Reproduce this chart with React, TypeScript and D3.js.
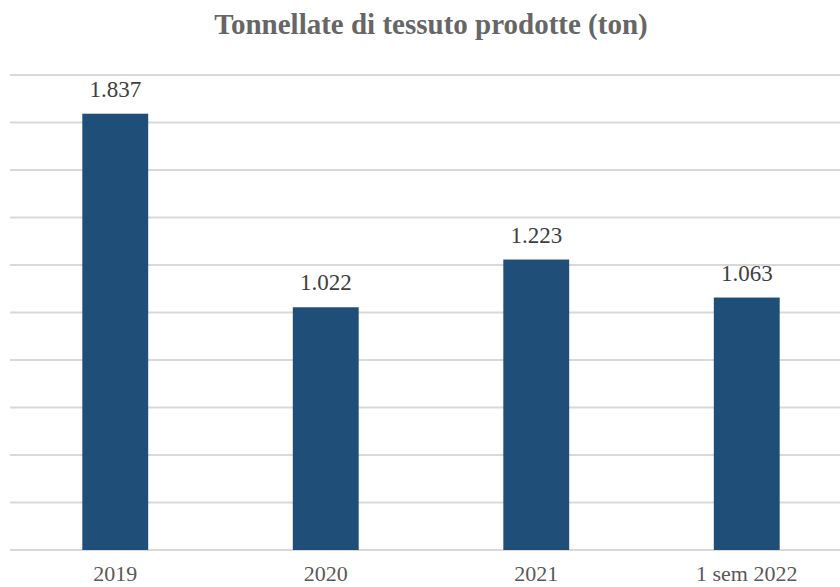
import React from 'react'
import * as d3 from 'd3'

const categories = ['2019', '2020', '2021', '1 sem 2022']
const values = [1837, 1022, 1223, 1063]
const valueLabels = ['1.837', '1.022', '1.223', '1.063']
const gridTicks = [0, 200, 400, 600, 800, 1000, 1200, 1400, 1600, 1800, 2000]
const title = 'Tonnellate di tessuto prodotte (ton)'

const W = 840
const H = 587
const FONT = '"Liberation Serif", "Times New Roman", serif'

function App() {
  // band layout: plot runs a bit past the right edge, like the original
  const x = d3.scaleBand().domain(categories).range([10, 852]).paddingInner(0.687).paddingOuter(0.3435)
  const y = d3.scaleLinear().domain([0, 2000]).range([550, 75])

  return (
    <svg width={W} height={H} style={{position: 'absolute', left: 0, top: 0}}>
      <rect width={W} height={H} fill="#fff" />
      <text x={431} y={34} textAnchor="middle" fontFamily={FONT} fontSize={29} fontWeight="bold" fill="#666666">
        {title}
      </text>
      {gridTicks.map(t => (
        <line key={t} x1={10} x2={W} y1={y(t)} y2={y(t)} stroke="#d9d9d9" strokeWidth={2} />
      ))}
      {categories.map((c, i) => (
        <g key={c}>
          <rect
            x={x(c)!}
            y={y(values[i])}
            width={x.bandwidth()}
            height={y(0) - y(values[i])}
            fill="#1f4e79"
          />
          <text
            x={x(c)! + x.bandwidth() / 2}
            y={y(values[i]) - 17}
            textAnchor="middle"
            fontFamily={FONT}
            fontSize={23}
            fill="#404040">
            {valueLabels[i]}
          </text>
          <text
            x={x(c)! + x.bandwidth() / 2}
            y={581}
            textAnchor="middle"
            fontFamily={FONT}
            fontSize={22}
            fill="#595959">
            {c}
          </text>
        </g>
      ))}
    </svg>
  )
}

export default App
